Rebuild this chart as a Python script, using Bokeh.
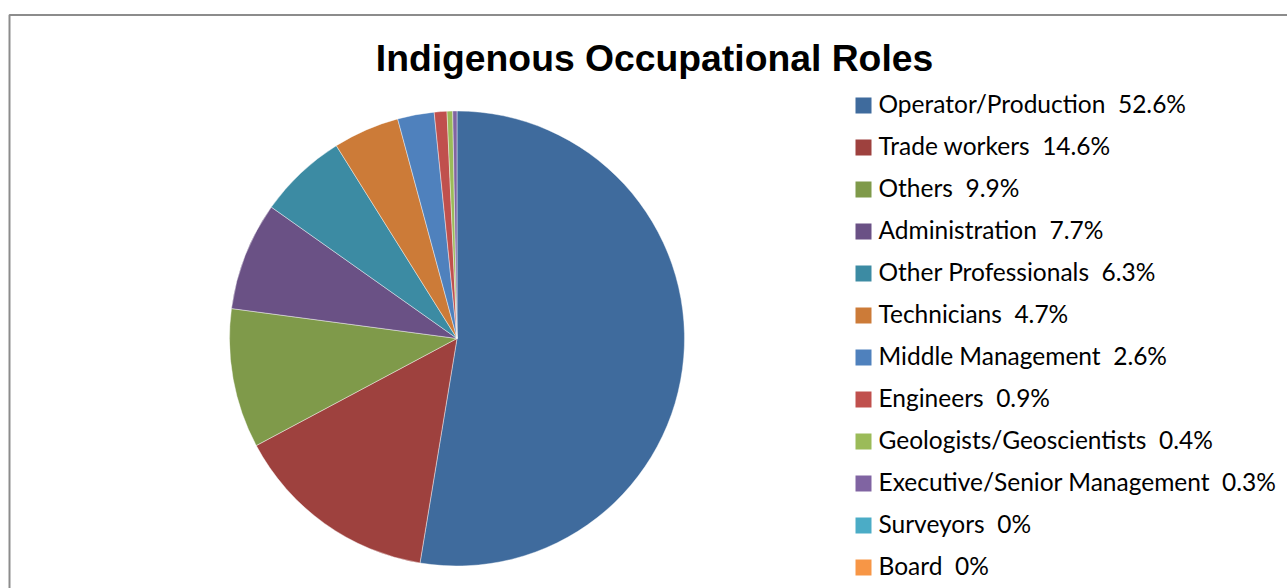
import math
from bokeh.plotting import figure
from bokeh.models import Range1d, ColumnDataSource
from bokeh.core.properties import value
from bokeh.embed import file_html
from bokeh.resources import INLINE

# ---- data ----
categories = ["Operator/Production", "Trade workers", "Others", "Administration",
              "Other Professionals", "Technicians", "Middle Management", "Engineers",
              "Geologists/Geoscientists", "Executive/Senior Management", "Surveyors", "Board"]
percents = [52.6, 14.6, 9.9, 7.7, 6.3, 4.7, 2.6, 0.9, 0.4, 0.3, 0, 0]
colors = ["#3F6B9D", "#9E413E", "#7F9A4A", "#6A5185", "#3C8BA3", "#CC7B38",
          "#4F81BD", "#C0504D", "#9BBB59", "#8064A2", "#4BACC6", "#F79646"]
title_text = "Indigenous Occupational Roles"

# ---- layout (canvas pixels, y up) ----
W, H = 1287, 588
cx, cy, r = 456.5, 250.0, 227.5

total = sum(percents)
starts, ends = [], []
acc = 0.0
for v in percents:
    starts.append(math.pi / 2 - 2 * math.pi * acc / total)
    acc += v
    ends.append(math.pi / 2 - 2 * math.pi * acc / total)

p = figure(width=W, height=H, output_backend="svg", toolbar_location=None,
           x_range=Range1d(0, W), y_range=Range1d(0, H),
           x_axis_type=None, y_axis_type=None, min_border=0,
           background_fill_color="white", border_fill_color="white")
p.outline_line_color = None
p.xgrid.visible = False
p.ygrid.visible = False

# chart-area border (partially visible)
p.line(x=[9, 9, 1400], y=[-50, 573.5, 573.5], line_color="#8C8C8C", line_width=2)

nz = [i for i, v in enumerate(percents) if v > 0]
wsrc = ColumnDataSource(dict(
    x=[cx] * len(nz), y=[cy] * len(nz),
    start=[starts[i] for i in nz], end=[ends[i] for i in nz],
    color=[colors[i] for i in nz]))
p.wedge(x="x", y="y", radius=r, start_angle="start", end_angle="end",
        direction="clock", fill_color="color", line_color="white",
        line_width=0.6, line_alpha=0.7, source=wsrc)

# title
p.text(x=[654], y=[531], text=[title_text], text_font=value("Liberation Sans"),
       text_font_style="bold", text_font_size="37.3px", text_align="center",
       text_baseline="alphabetic", text_color="black")

# legend
labels = ["%s\u00a0 %s%%" % (c, ("%g" % v)) for c, v in zip(categories, percents)]
ys_sq = [483 - 42 * i for i in range(len(categories))]
ys_tx = [485 - 42 * i for i in range(len(categories))]
p.rect(x=[863] * len(categories), y=ys_sq, width=16, height=16,
       width_units="screen", height_units="screen", fill_color=colors, line_color=None)
p.text(x=[878] * len(categories), y=ys_tx, text=labels, text_font=value("Lato"),
       text_font_size="24.5px", text_baseline="alphabetic", text_align="left",
       text_color="black")

open("out.html", "w").write(file_html(p, INLINE))
